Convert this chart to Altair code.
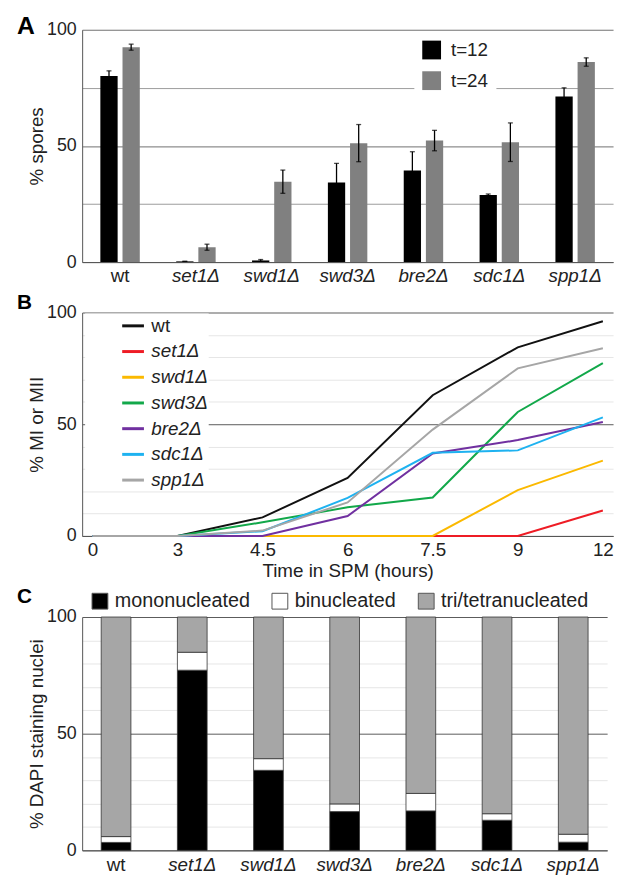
import altair as alt
import pandas as pd

FONT = "Liberation Sans"

strains = ["wt", "set1Δ", "swd1Δ", "swd3Δ", "bre2Δ", "sdc1Δ", "spp1Δ"]

# ---- Panel A: % spores at t=12 and t=24 ----
time_groups = ["t=12", "t=24"]
spores_t12 = [80.1, 0.3, 0.7, 34.2, 39.4, 28.9, 71.3]
spores_t12_err = [2.2, 0.0, 0.4, 8.3, 8.1, 0.4, 3.7]
spores_t24 = [92.5, 6.4, 34.6, 51.2, 52.3, 51.6, 86.1]
spores_t24_err = [1.3, 1.3, 5.0, 8.0, 4.4, 8.3, 1.8]
spore_colors = ["#000000", "#808080"]

# ---- Panel B: % MI or MII over time ----
hours = ["0", "3", "4.5", "6", "7.5", "9", "12"]
mi_wt = [0, 0, 8.3, 26.0, 63.0, 84.4, 96.1]
mi_set1 = [0, 0, 0, 0, 0, 0, 11.4]
mi_swd1 = [0, 0, 0, 0, 0, 20.5, 33.7]
mi_swd3 = [0, 0, 6.1, 12.8, 17.2, 55.5, 77.3]
mi_bre2 = [0, 0, 0, 8.9, 36.9, 42.9, 51.0]
mi_sdc1 = [0, 0, 2.1, 17.0, 37.2, 38.3, 53.1]
mi_spp1 = [0, 0, 2.4, 15.0, 47.6, 75.0, 84.0]
line_colors = ["#111111", "#ee1c25", "#fbb900", "#12a84a", "#7030a0", "#1eb2f0", "#a6a6a6"]

# ---- Panel C: DAPI staining nuclei ----
nuclei_classes = ["mononucleated", "binucleated", "tri/tetranucleated"]
mono = [3.4, 77.2, 34.3, 16.6, 16.9, 12.9, 3.5]
bi = [2.5, 7.7, 5.0, 3.3, 7.5, 2.8, 3.4]
tri = [94.1, 15.1, 60.7, 80.1, 75.6, 84.3, 93.1]
nuclei_colors = ["#000000", "#ffffff", "#a6a6a6"]

# ---------------- tables ----------------
dfA = pd.DataFrame({
    "strain": strains * 2,
    "time": [time_groups[0]] * 7 + [time_groups[1]] * 7,
    "value": spores_t12 + spores_t24,
    "err": spores_t12_err + spores_t24_err,
})
dfA["lo"] = dfA["value"] - dfA["err"]
dfA["hi"] = dfA["value"] + dfA["err"]

mi_series = [mi_wt, mi_set1, mi_swd1, mi_swd3, mi_bre2, mi_sdc1, mi_spp1]
dfB = pd.DataFrame([
    {"strain": s, "hour": h, "value": v, "order": i}
    for s, series in zip(strains, mi_series)
    for i, (h, v) in enumerate(zip(hours, series))
])

dfC = pd.DataFrame([
    {"strain": s, "cls": c, "value": v, "ord": k}
    for k, (c, arr) in enumerate(zip(nuclei_classes, [mono, bi, tri]))
    for s, v in zip(strains, arr)
])

italic_cond = {"condition": {"test": "datum.value == 'wt'", "value": "normal"}, "value": "italic"}


def strain_axis():
    return alt.Axis(title=None, ticks=False, labelAngle=0, labelFontSize=19, labelPadding=5,
                    labelFontStyle=italic_cond, domainColor="#555", grid=False)


def pct_axis(title, values, major, minor):
    return alt.Axis(title=title, values=values,
                    labelExpr="datum.value % 50 == 0 ? datum.label : ''",
                    ticks=False, labelFontSize=18, labelPadding=6,
                    titleFontSize=19, titleFontWeight="normal", titlePadding=0,
                    gridColor={"condition": {"test": "datum.value % 50 == 0", "value": major}, "value": minor},
                    domainColor="#555")


def letter(ch, y, size):
    return alt.Chart(pd.DataFrame({"t": [ch]})).mark_text(
        align="left", baseline="alphabetic", fontSize=size, fontWeight="bold", font=FONT, color="black"
    ).encode(x=alt.value(-66), y=alt.value(y), text="t:N")


# ---------------- Panel A ----------------
xA = alt.X("strain:N", sort=strains, scale=alt.Scale(paddingInner=0.48, paddingOuter=0.24), axis=strain_axis())
xoA = alt.XOffset("time:N", sort=time_groups, scale=alt.Scale(paddingInner=0.22))
yScaleA = alt.Scale(domain=[0, 100], nice=False)
axA = pct_axis("% spores", [0, 25, 50, 75, 100], "#707070", "#9c9c9c")

barsA = alt.Chart(dfA).mark_bar().encode(
    x=xA, xOffset=xoA,
    y=alt.Y("value:Q", scale=yScaleA, axis=axA),
    color=alt.Color("time:N", scale=alt.Scale(domain=time_groups, range=spore_colors),
                    legend=alt.Legend(title=None, orient="none", legendX=336, legendY=3,
                                      direction="vertical", symbolType="square", symbolSize=361,
                                      symbolStrokeWidth=0, labelFontSize=19, labelOffset=10,
                                      rowPadding=11, fillColor="white", padding=8,
                                      labelFont=FONT, labelColor="#222")),
)
errA = alt.Chart(dfA).mark_rule(color="black", strokeWidth=1.3).encode(
    x=xA, xOffset=xoA,
    y=alt.Y("lo:Q", scale=yScaleA, axis=axA), y2="hi:Q",
)
capHiA = alt.Chart(dfA).mark_tick(color="black", size=5, thickness=1.3).encode(
    x=xA, xOffset=xoA, y=alt.Y("hi:Q", scale=yScaleA, axis=axA))
capLoA = alt.Chart(dfA).mark_tick(color="black", size=5, thickness=1.3).encode(
    x=xA, xOffset=xoA, y=alt.Y("lo:Q", scale=yScaleA, axis=axA))

panelA = alt.layer(barsA, errA, capHiA, capLoA, letter("A", 4, 25)).properties(width=537, height=235)

# ---------------- Panel B ----------------
xB = alt.X("hour:N", sort=hours, scale=alt.Scale(type="point", padding=0.12),
           axis=alt.Axis(title="Time in SPM (hours)", labelAngle=0, ticks=False, labelFontSize=19,
                         labelPadding=5, titleFontSize=19, titleFontWeight="normal", titlePadding=2,
                         grid=False, domainColor="#555"))
linesB = alt.Chart(dfB).mark_line(strokeWidth=2).encode(
    x=xB,
    y=alt.Y("value:Q", scale=alt.Scale(domain=[0, 100], nice=False),
            axis=pct_axis("% MI or MII", list(range(0, 101, 10)), "#5a5a5a", "#e6e6e6")),
    color=alt.Color("strain:N", scale=alt.Scale(domain=strains, range=line_colors),
                    legend=alt.Legend(title=None, orient="none", legendX=3, legendY=1,
                                      direction="vertical", symbolType="stroke", symbolSize=484,
                                      symbolStrokeWidth=3, symbolOffset=36, labelFontSize=19,
                                      labelOffset=6, rowPadding=3, fillColor="white", padding=0,
                                      labelFont=FONT, labelColor="#222",
                                      labelFontStyle={"expr": "datum.label == 'wt' ? 'normal' : 'italic'"})),
    order=alt.Order("order:Q"),
)
panelB = alt.layer(linesB, letter("B", -4, 21)).properties(width=537, height=226)

# ---------------- Panel C ----------------
barsC = alt.Chart(dfC).mark_bar(stroke="#333333", strokeWidth=0.8).encode(
    x=alt.X("strain:N", sort=strains, scale=alt.Scale(paddingInner=0.61, paddingOuter=0.25), axis=strain_axis()),
    y=alt.Y("value:Q", stack="zero", scale=alt.Scale(domain=[0, 100], nice=False),
            axis=pct_axis("% DAPI staining nuclei", list(range(0, 101, 10)), "#5a5a5a", "#e6e6e6")),
    color=alt.Color("cls:N", scale=alt.Scale(domain=nuclei_classes, range=nuclei_colors),
                    legend=alt.Legend(title=None, orient="none", legendX=8, legendY=-26,
                                      direction="horizontal", symbolType="square", symbolSize=256,
                                      symbolStrokeColor="#555555", symbolStrokeWidth=1,
                                      labelFontSize=20, labelOffset=5, columnPadding=20, padding=0,
                                      labelFont=FONT, labelColor="#222")),
    order=alt.Order("ord:Q", sort="ascending"),
)
panelC = alt.layer(barsC, letter("C", -14, 21)).properties(width=531, height=236)

chart = alt.vconcat(panelA, panelB, panelC, spacing=4).resolve_scale(
    x="independent", y="independent", color="independent", xOffset="independent"
).resolve_axis(x="independent", y="independent").resolve_legend(color="independent").properties(
    padding={"left": 8, "top": 0, "right": 5, "bottom": 0}
).configure_view(stroke="transparent").configure_axis(
    labelFont=FONT, titleFont=FONT, labelColor="#222", titleColor="#222"
)

chart.save("out.html", embed_options={"renderer": "svg", "actions": False})
